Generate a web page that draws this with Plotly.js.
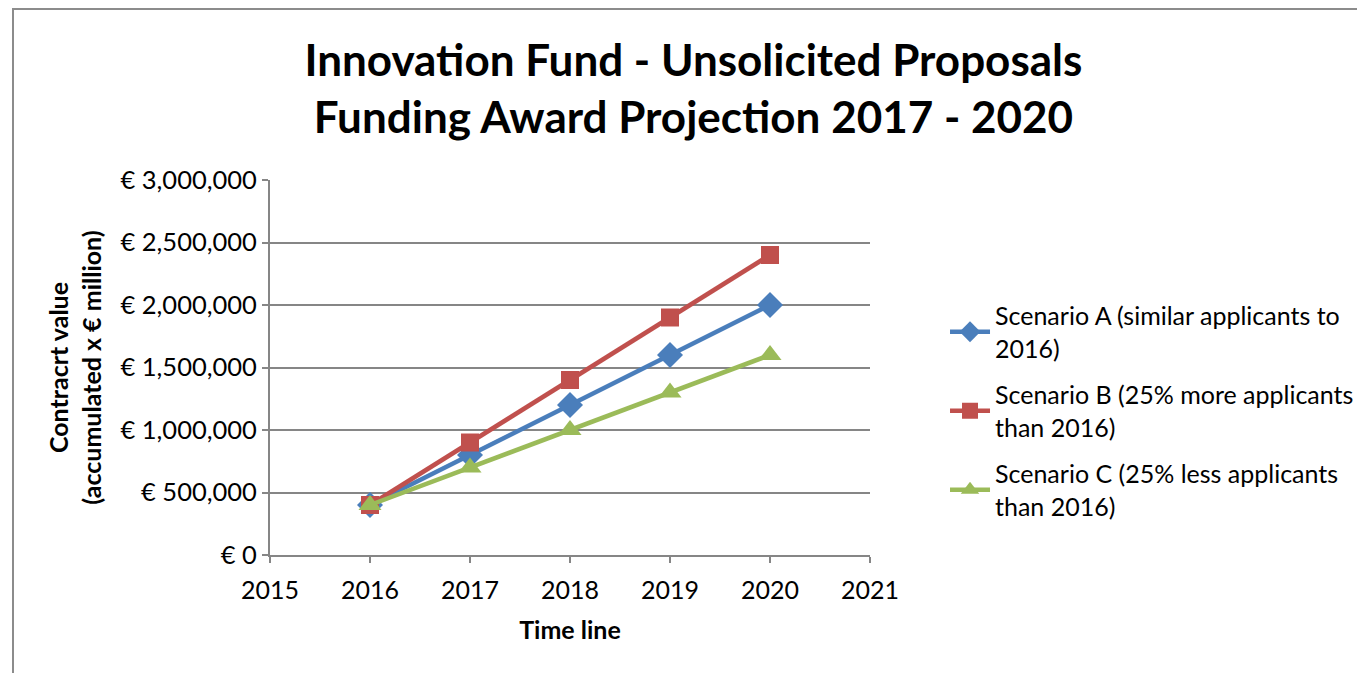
<!DOCTYPE html>
<html><head><meta charset="utf-8">
<script src="https://cdn.plot.ly/plotly-3.0.1.min.js"></script>
<style>
html,body{margin:0;padding:0;background:#fff;}
#frame{position:absolute;left:12px;top:8px;width:1400px;height:700px;border-top:2px solid #8c8c8c;border-left:2px solid #8c8c8c;box-sizing:border-box;}
#chart{position:absolute;left:0;top:0;width:1357px;height:673px;}
</style></head>
<body>
<div id="frame"></div>
<div id="chart"></div>
<script>
const years = [2016, 2017, 2018, 2019, 2020];
const scenarioA = [400000, 800000, 1200000, 1600000, 2000000];
const scenarioB = [400000, 900000, 1400000, 1900000, 2400000];
const scenarioC = [400000, 700000, 1000000, 1300000, 1600000];
const seriesNames = [
  'Scenario A (similar applicants to<br>2016)',
  'Scenario B (25% more applicants<br>than 2016)',
  'Scenario C (25% less applicants<br>than 2016)'
];
const yTickVals = [0, 500000, 1000000, 1500000, 2000000, 2500000, 3000000];
const yTickText = ['€ 0', '€ 500,000', '€ 1,000,000', '€ 1,500,000', '€ 2,000,000', '€ 2,500,000', '€ 3,000,000'];
const xTickVals = [2015, 2016, 2017, 2018, 2019, 2020, 2021];

const font = 'Lato, "Open Sans", sans-serif';
function tr(y, name, color, symbol, size, grp) {
  return {x: years, y: y, name: name, type: 'scatter', mode: 'lines+markers', legendgroup: grp,
    line: {color: color, width: 4.5}, marker: {symbol: symbol, size: size, color: color}};
}
const data = [
  tr(scenarioA, seriesNames[0], '#4A7EBB', 'diamond', 20, 'a'),
  tr(scenarioB, seriesNames[1], '#C0504D', 'square', 18, 'b'),
  tr(scenarioC, seriesNames[2], '#9BBB59', 'triangle-up', 20, 'c')
];
const layout = {
  width: 1357, height: 673,
  paper_bgcolor: 'rgba(0,0,0,0)', plot_bgcolor: 'rgba(0,0,0,0)',
  margin: {l: 270, r: 487, t: 180, b: 118},
  font: {family: font, size: 25, color: '#000'},
  title: {text: '<b>Innovation Fund - Unsolicited Proposals<br>Funding Award Projection 2017 - 2020</b>',
    font: {family: font, size: 44, color: '#000'}, x: 0.511, xanchor: 'center', y: 0.887, yanchor: 'middle'},
  xaxis: {range: [2015, 2021], tickvals: xTickVals, ticktext: xTickVals.map(String),
    showgrid: false, zeroline: false, showline: true, linecolor: '#868686', linewidth: 2,
    ticks: 'outside', ticklen: 6, tickcolor: '#868686', tickwidth: 2, ticklabelstandoff: 6,
    tickfont: {size: 25}, title: {text: '<b>Time line</b>', font: {size: 25}, standoff: 18}},
  yaxis: {range: [0, 3000000], tickvals: yTickVals, ticktext: yTickText,
    showgrid: true, gridcolor: '#868686', gridwidth: 2, zeroline: false,
    showline: true, linecolor: '#868686', linewidth: 2,
    ticks: 'outside', ticklen: 6, tickcolor: '#868686', tickwidth: 2,
    tickfont: {size: 25.5}, title: {text: '<b>Contracrt value<br>(accumulated x € million)</b>', font: {size: 25}, standoff: 12}},
  legend: {xref: 'container', yref: 'container', x: 0.6964, xanchor: 'left', y: 0.565, yanchor: 'top', font: {size: 25},
    tracegroupgap: 11, bgcolor: 'rgba(0,0,0,0)', itemwidth: 40},
  showlegend: true
};
Plotly.newPlot('chart', data, layout, {displayModeBar: false, staticPlot: true});
</script>
</body></html>
